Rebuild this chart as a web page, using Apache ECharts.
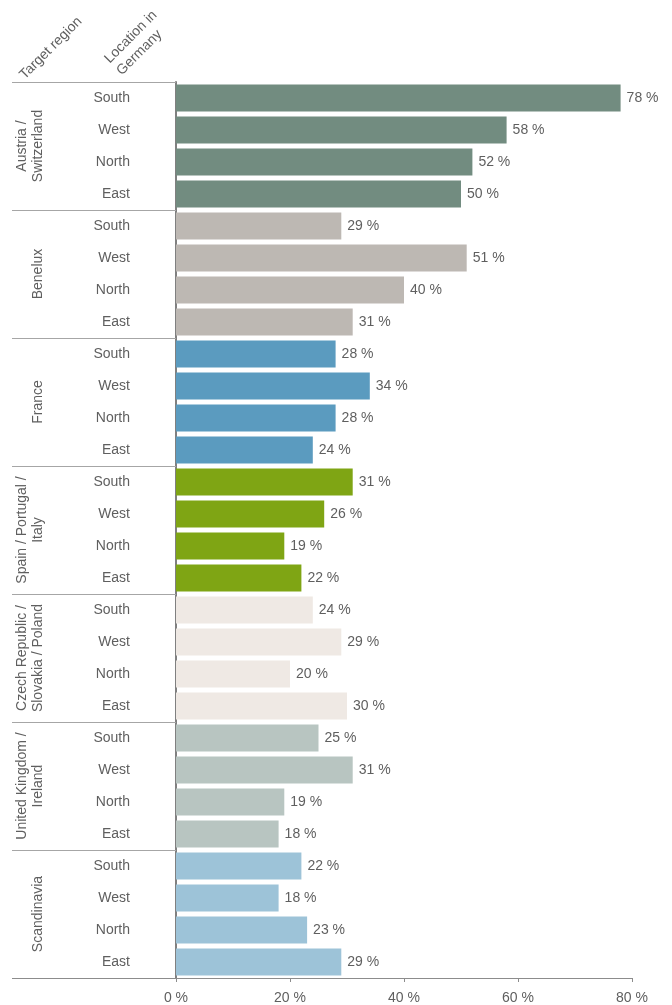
<!DOCTYPE html>
<html>
<head>
<meta charset="utf-8">
<script src="https://cdn.jsdelivr.net/npm/echarts@6/dist/echarts.min.js"></script>
<style>
  html, body { margin: 0; padding: 0; background: #fff; }
  #chart { width: 672px; height: 1005px; }
</style>
</head>
<body>
<div id="chart"></div>
<script>
// Target regions (group labels) and German home locations (row labels)
const regions = [
  'Austria /\nSwitzerland',
  'Benelux',
  'France',
  'Spain / Portugal /\nItaly',
  'Czech Republic /\nSlovakia / Poland',
  'United Kingdom /\nIreland',
  'Scandinavia'
];
const locations = ['South', 'West', 'North', 'East'];

// Share of companies (%) per region, ordered South, West, North, East
const austriaSwitzerland = [78, 58, 52, 50];
const benelux            = [29, 51, 40, 31];
const france             = [28, 34, 28, 24];
const spainPortugalItaly = [31, 26, 19, 22];
const czechSlovakPoland  = [24, 29, 20, 30];
const ukIreland          = [25, 31, 19, 18];
const scandinavia        = [22, 18, 23, 29];

const xTicks = [0, 20, 40, 60, 80];

const regionValues = [austriaSwitzerland, benelux, france, spainPortugalItaly,
                      czechSlovakPoland, ukIreland, scandinavia];
const regionColors = ['#728c80', '#bdb8b3', '#5b9bbf', '#7fa514',
                      '#efe9e4', '#b8c5c1', '#9dc3d8'];

const FONT = '"Liberation Sans", Arial, sans-serif';
const TEXT = '#5f5f5f';
const RULE = '#a6a6a6';

const categories = [];
const barData = [];
regions.forEach((r, gi) => {
  locations.forEach((loc, li) => {
    categories.push(gi + '|' + loc);
    barData.push({ value: regionValues[gi][li], itemStyle: { color: regionColors[gi] } });
  });
});

const chart = echarts.init(document.getElementById('chart'), null, { renderer: 'canvas' });

const option = {
  animation: false,
  backgroundColor: '#fff',
  textStyle: { fontFamily: FONT },
  grid: { left: 176, right: 40, top: 82, bottom: 27, containLabel: false },
  xAxis: {
    type: 'value',
    min: xTicks[0],
    max: xTicks[xTicks.length - 1],
    interval: 20,
    axisLine: { show: true, lineStyle: { color: '#8c8c8c', width: 1 } },
    axisTick: { show: true, length: 4, lineStyle: { color: '#8c8c8c' } },
    splitLine: { show: false },
    axisLabel: {
      color: TEXT, fontSize: 14, fontFamily: FONT, margin: 13,
      formatter: v => v + ' %'
    }
  },
  yAxis: {
    type: 'category',
    inverse: true,
    data: categories,
    axisLine: { show: true, lineStyle: { color: '#808080', width: 2 } },
    axisTick: { show: false },
    axisLabel: {
      color: TEXT, fontSize: 14, fontFamily: FONT, margin: 46,
      formatter: c => c.split('|')[1]
    }
  },
  series: [{
    type: 'bar',
    data: barData,
    barCategoryGap: '16%',
    label: {
      show: true,
      position: 'right',
      distance: 6,
      color: TEXT,
      fontSize: 14,
      fontFamily: FONT,
      formatter: p => p.value + ' %'
    }
  }]
};

chart.setOption(option);

// Group separators, group labels and column headers, placed from the axis scale
function drawFrame() {
  const yOf = c => chart.convertToPixel({ yAxisIndex: 0 }, c);
  const step = yOf(categories[1]) - yOf(categories[0]);
  const x0 = chart.convertToPixel({ xAxisIndex: 0 }, 0);
  const leftX = 12;
  const elements = [];

  // horizontal rules at the top, between groups and at the bottom
  for (let g = 0; g <= regions.length; g++) {
    const y = g < regions.length
      ? yOf(categories[g * locations.length]) - step / 2
      : yOf(categories[categories.length - 1]) + step / 2;
    const yy = Math.round(y) + 0.5;
    elements.push({
      type: 'line',
      shape: { x1: leftX, y1: yy, x2: x0, y2: yy },
      style: { stroke: g === regions.length ? '#8c8c8c' : RULE, lineWidth: 1 },
      z: 10
    });
  }

  // rotated group labels
  regions.forEach((r, gi) => {
    const yc = (yOf(categories[gi * locations.length]) +
                yOf(categories[gi * locations.length + locations.length - 1])) / 2;
    elements.push({
      type: 'text',
      x: 46, y: yc,
      rotation: Math.PI / 2,
      style: {
        text: r, fill: TEXT, font: '14px ' + FONT,
        align: 'center', verticalAlign: 'bottom', lineHeight: 16
      },
      z: 10
    });
  });

  // column headers
  elements.push({
    type: 'text', x: 27, y: 82, rotation: Math.PI / 4,
    style: { text: 'Target region', fill: TEXT, font: '14px ' + FONT,
             align: 'left', verticalAlign: 'bottom' },
    z: 10
  });
  elements.push({
    type: 'text', x: 125, y: 79, rotation: Math.PI / 4,
    style: { text: 'Location in\nGermany', fill: TEXT, font: '14px ' + FONT,
             align: 'left', verticalAlign: 'bottom', lineHeight: 17 },
    z: 10
  });

  chart.setOption({ graphic: { elements: elements } });
}
drawFrame();
</script>
</body>
</html>
